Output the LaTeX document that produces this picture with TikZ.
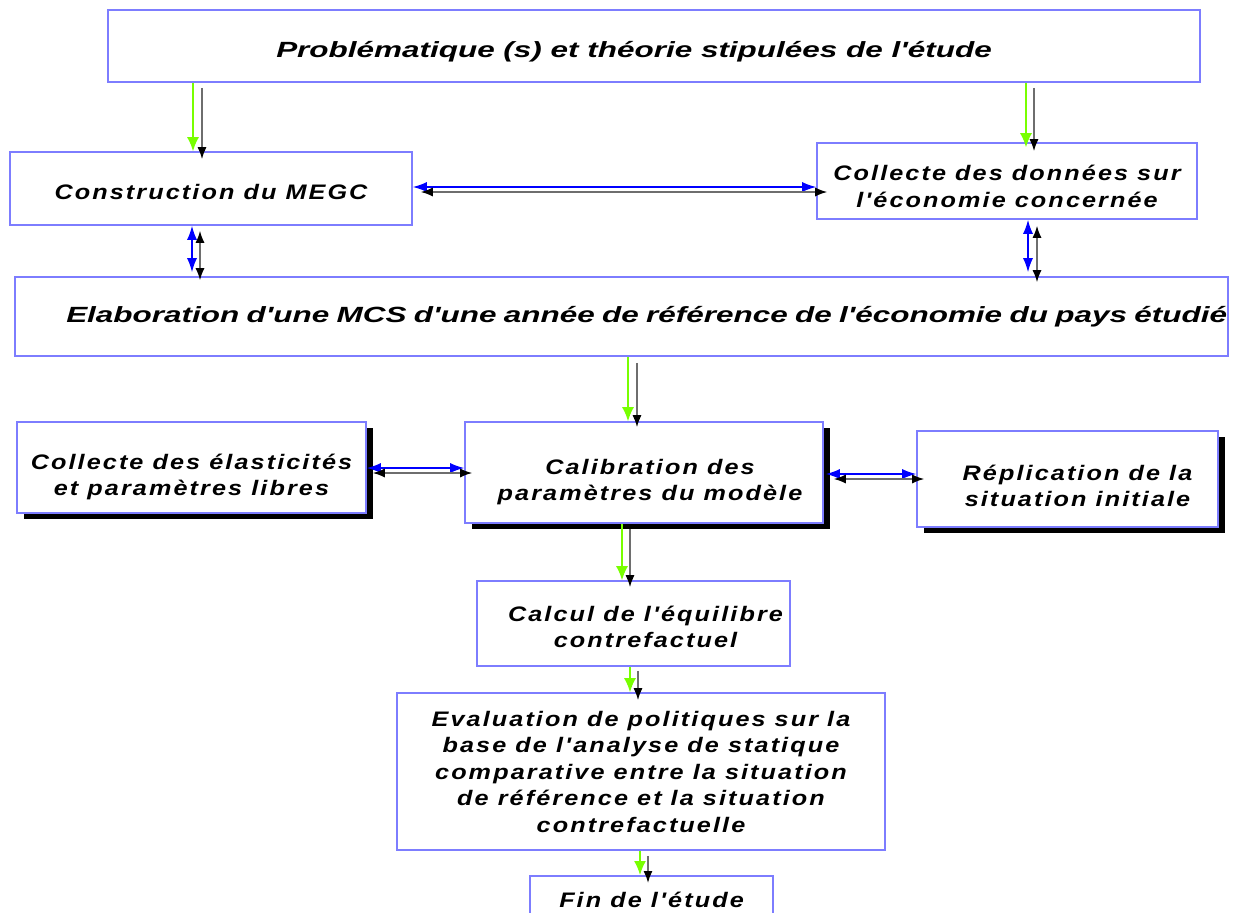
\documentclass[tikz,border=0pt]{standalone}
\usepackage{fontspec}
\setmainfont{Liberation Sans}
\newfontfamily\wfont[LetterSpace=10,FakeStretch=1.2]{Liberation Sans}
\newfontfamily\nfont[FakeStretch=1.43]{Liberation Sans}
\usetikzlibrary{arrows.meta,shadows}
\definecolor{bord}{RGB}{125,125,255}
\definecolor{agreen}{RGB}{120,255,0}
\definecolor{agray}{RGB}{110,110,110}
\tikzset{
 box/.style={draw=bord, line width=1.6pt, fill=white, inner sep=0pt, align=center,
   font=\wfont\bfseries\itshape\fontsize{21}{26.5}\selectfont},
 widebox/.style={font=\nfont\bfseries\itshape\fontsize{22}{26}\selectfont},
 shbox/.style={drop shadow={shadow xshift=7pt, shadow yshift=-6pt, fill=black, opacity=1}},
 garrow/.style={draw=agreen, line width=1.6pt, -{Latex[length=14pt,width=12pt]}},
 karrow/.style={draw=agray, line width=1.6pt, -{Latex[length=12pt,width=9pt,color=black]}},
 barrow/.style={draw=blue, line width=1.4pt, {Latex[length=14pt,width=10pt]}-{Latex[length=14pt,width=10pt]}},
 kbarrow/.style={draw=agray, line width=1.4pt, {Latex[length=12pt,width=9pt,color=black]}-{Latex[length=12pt,width=9pt,color=black]}},
}
\begin{document}
\begin{tikzpicture}[x=1pt,y=-1pt]
\useasboundingbox (0,0) rectangle (1243,913);
% boxes
\node[box, widebox, minimum width=1092pt, minimum height=72pt] (b1) at (654,46)
  {\hspace*{-40pt}\rule{0pt}{28pt}Problématique (s) et théorie stipulées de l'étude};
\node[box, minimum width=402pt, minimum height=73pt] (b2) at (211,188.5)
  {\rule{0pt}{22pt}Construction du MEGC};
\node[box, minimum width=380pt, minimum height=76pt] (b3) at (1007,181)
  {\rule{0pt}{26pt}Collecte des données sur\\l'économie concernée};
\node[box, widebox, minimum width=1213pt, minimum height=79pt, text width=1211pt, align=right] (b4) at (621.5,316.5)
  {Elaboration d'une MCS d'une année de référence de l'économie du pays étudié};
\node[box, shbox, minimum width=349pt, minimum height=91pt] (b7) at (191.5,467.5)
  {\rule{0pt}{34pt}Collecte des élasticités\\et paramètres libres};
\node[box, shbox, minimum width=358pt, minimum height=101pt] (b5) at (644,472.5)
  {\rule{0pt}{34pt}\hspace*{12pt}Calibration des\\\hspace*{12pt}paramètres du modèle};
\node[box, shbox, minimum width=301pt, minimum height=96pt] (b6) at (1067.5,479)
  {\rule{0pt}{29pt}\hspace*{20pt}Réplication de la\\\hspace*{20pt}situation initiale};
\node[box, minimum width=313pt, minimum height=85pt] (b8) at (633.5,623.5)
  {\rule{0pt}{22pt}\hspace*{24pt}Calcul de l'équilibre\\\hspace*{24pt}contrefactuel};
\node[box, minimum width=488pt, minimum height=157pt] (b9) at (641,771.5)
  {Evaluation de politiques sur la\\base de l'analyse de statique\\comparative entre la situation\\de référence et la situation\\contrefactuelle};
\node[box, minimum width=243pt, minimum height=60pt, anchor=north] (b10) at (651.5,875)
  {\raisebox{13pt}{Fin de l'étude}};
% b1 -> b2
\draw[garrow] ([xshift=-461pt]b1.south) -- ([xshift=-18pt]b2.north);
\draw[karrow] ([xshift=-452pt,yshift=-5pt]b1.south) -- ([xshift=-9pt,yshift=-8pt]b2.north);
% b1 -> b3
\draw[garrow] ([xshift=372pt]b1.south) -- ([xshift=19pt,yshift=-5pt]b3.north);
\draw[karrow] ([xshift=380pt,yshift=-5pt]b1.south) -- ([xshift=27pt,yshift=-9pt]b3.north);
% b2 <-> b3
\draw[barrow] ([yshift=1.5pt]b2.east) -- ([yshift=-6pt]b3.west);
\draw[kbarrow] ([xshift=8pt,yshift=-3.5pt]b2.east) -- ([xshift=11pt,yshift=-11pt]b3.west);
% b2 <-> b4
\draw[barrow] ([xshift=-19pt]b2.south) -- ([xshift=-429.5pt,yshift=4pt]b4.north);
\draw[kbarrow] ([xshift=-11pt,yshift=-5pt]b2.south) -- ([xshift=-421.5pt,yshift=-4pt]b4.north);
% b3 <-> b4
\draw[barrow] ([xshift=21pt]b3.south) -- ([xshift=406.5pt,yshift=4pt]b4.north);
\draw[kbarrow] ([xshift=30pt,yshift=-6pt]b3.south) -- ([xshift=415.5pt,yshift=-6pt]b4.north);
% b4 -> b5
\draw[garrow] ([xshift=6.5pt]b4.south) -- ([xshift=-16pt]b5.north);
\draw[karrow] ([xshift=15.5pt,yshift=-6pt]b4.south) -- ([xshift=-7pt,yshift=-6pt]b5.north);
% b7 <-> b5
\draw[barrow] ([yshift=-0.5pt]b7.east) -- ([yshift=4.5pt]b5.west);
\draw[kbarrow] ([xshift=6pt,yshift=-5.5pt]b7.east) -- ([xshift=8pt,yshift=-0.5pt]b5.west);
% b5 <-> b6
\draw[barrow] ([xshift=2pt,yshift=-1.5pt]b5.east) -- ([yshift=5pt]b6.west);
\draw[kbarrow] ([xshift=10pt,yshift=-6.5pt]b5.east) -- ([xshift=8pt]b6.west);
% b5 -> b8
\draw[garrow] ([xshift=-22pt]b5.south) -- ([xshift=-11.5pt]b8.north);
\draw[karrow] ([xshift=-14pt,yshift=-5pt]b5.south) -- ([xshift=-3.5pt,yshift=-7pt]b8.north);
% b8 -> b9
\draw[garrow] ([xshift=-3.5pt]b8.south) -- ([xshift=-11pt]b9.north);
\draw[karrow] ([xshift=4.5pt,yshift=-4pt]b8.south) -- ([xshift=-3pt,yshift=-8pt]b9.north);
% b9 -> b10
\draw[garrow] ([xshift=-1pt]b9.south) -- ([xshift=-11.5pt]b10.north);
\draw[karrow] ([xshift=7pt,yshift=-5pt]b9.south) -- ([xshift=-3.5pt,yshift=-8pt]b10.north);
\end{tikzpicture}
\end{document}
